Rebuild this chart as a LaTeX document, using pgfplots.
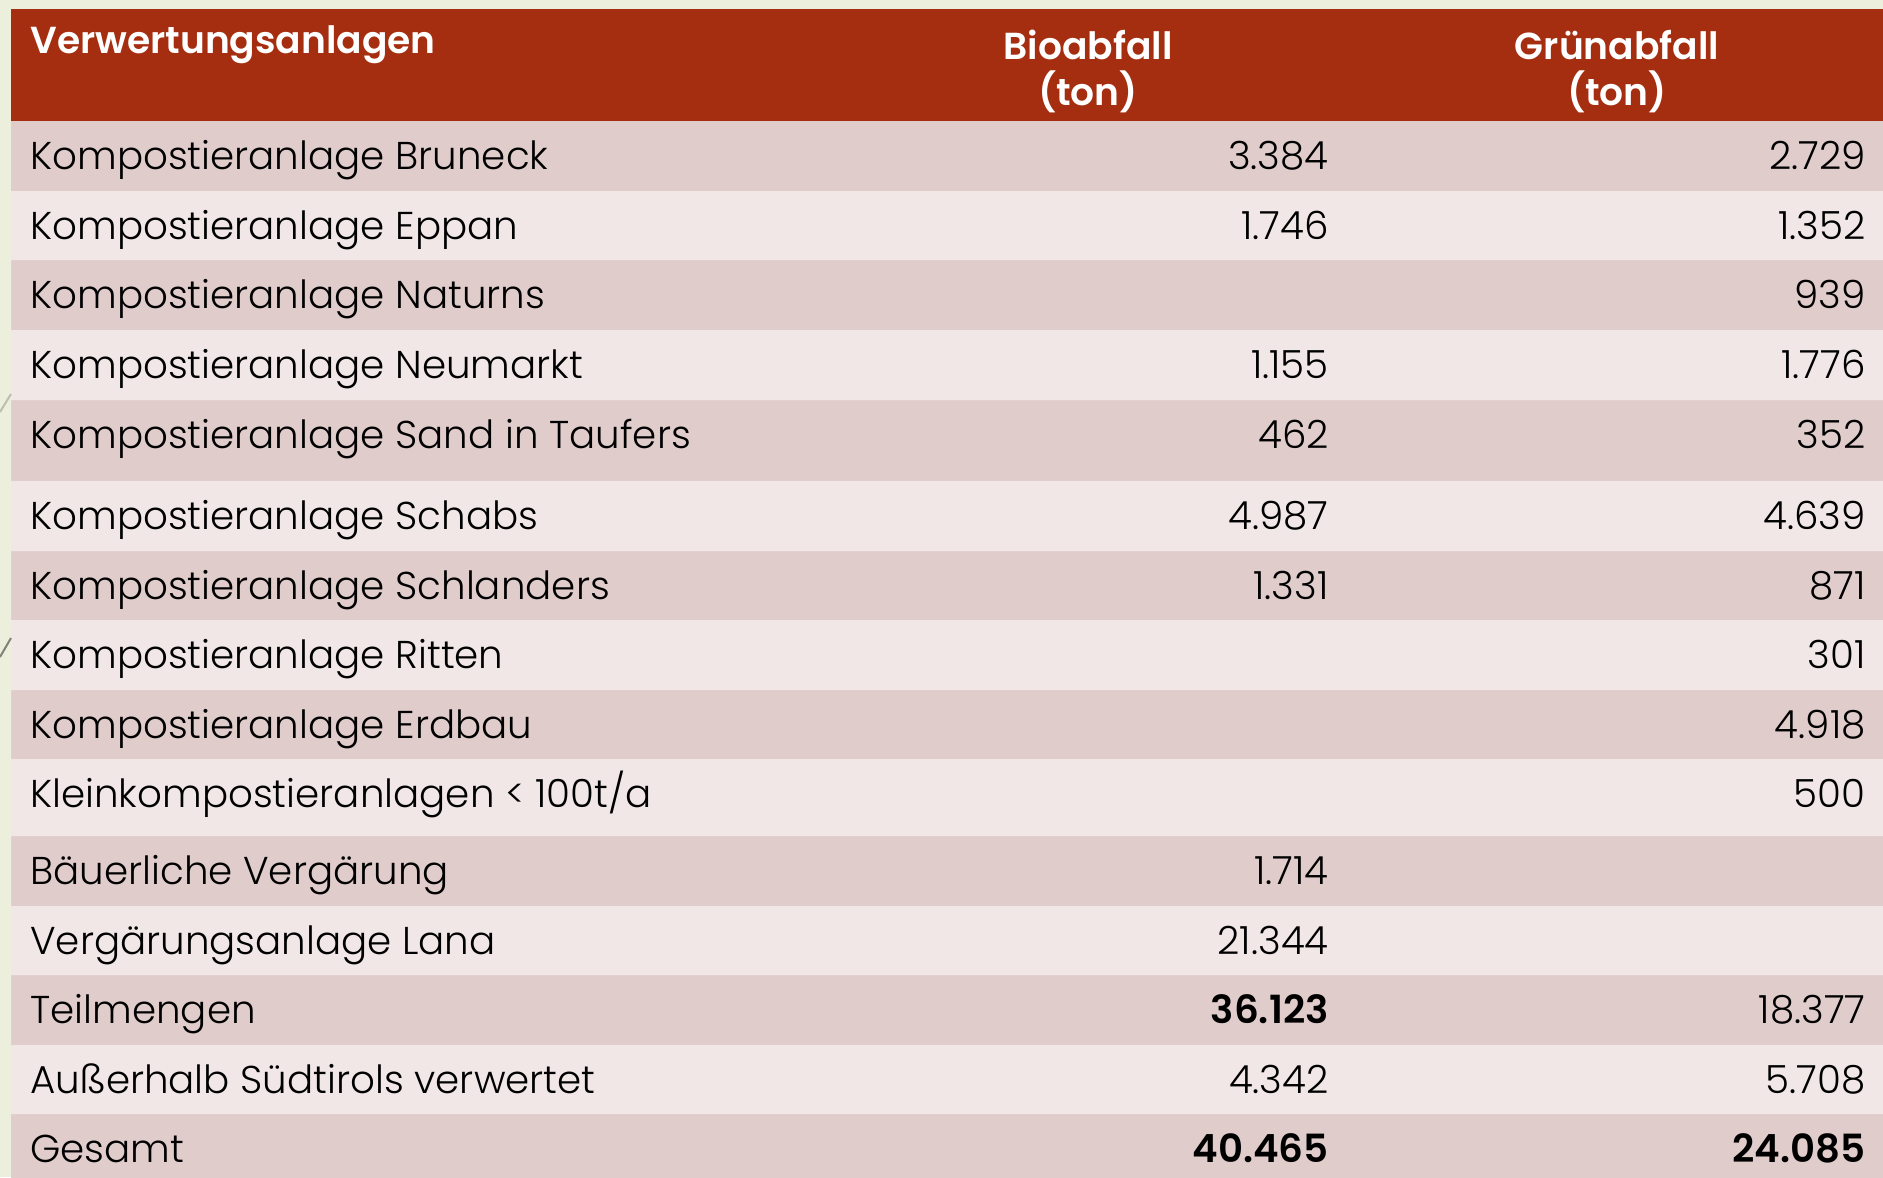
\documentclass[border=0pt]{standalone}
\usepackage{pgfplots}
\pgfplotsset{compat=1.18}
\usepackage{pgfplotstable}
\usepackage{fontspec}
\setmainfont{Poppins}[UprightFont=* Light, BoldFont=* SemiBold]

\definecolor{bgc}{RGB}{235,239,219}
\definecolor{kopf}{RGB}{165,46,16}
\definecolor{dunkel}{RGB}{224,204,203}
\definecolor{hell}{RGB}{240,231,230}
\newcommand\zeile{\fontsize{19.4}{23}\selectfont}
\newcommand\kopfschrift{\fontsize{18.8}{22}\selectfont\bfseries}

% top = y of the upper edge of the row (px from top)
\pgfplotstableread[col sep=semicolon]{
top;label;bio;gruen
121;Kompostieranlage Bruneck;3.384;2.729
191;Kompostieranlage Eppan;1.746;1.352
260;Kompostieranlage Naturns;{};939
330;Kompostieranlage Neumarkt;1.155;1.776
400;Kompostieranlage Sand in Taufers;462;352
481;Kompostieranlage Schabs;4.987;4.639
551;Kompostieranlage Schlanders;1.331;871
620;Kompostieranlage Ritten;{};301
690;Kompostieranlage Erdbau;{};4.918
759;Kleinkompostieranlagen < 100t/a;{};500
836;Bäuerliche Vergärung;1.714;{}
906;Vergärungsanlage Lana;21.344;{}
975;Teilmengen;\textbf{36.123};18.377
1045;Außerhalb Südtirols verwertet;4.342;5.708
1114;Gesamt;\textbf{40.465};\textbf{24.085}
}\anlagen

\begin{document}
\begin{tikzpicture}
\begin{axis}[
    width=941.5pt, height=588.5pt, scale only axis,
    xmin=-11, xmax=1872, ymin=0, ymax=1177, y dir=reverse,
    enlargelimits=false,
    axis line style={draw=none}, xtick=\empty, ytick=\empty,
    axis background/.style={fill=bgc},
    nodes near coords={\pgfplotspointmeta},
    point meta=explicit symbolic,
]
% row backgrounds
\addplot[xbar interval, fill=kopf, draw=none] coordinates {(1900,9) (1900,121)};
\addplot[xbar interval, fill=dunkel, draw=none] coordinates {
    (1900,121) (0,191) (1900,260) (0,330) (1900,400) (0,481) (1900,551) (0,620)
    (1900,690) (0,759) (1900,836) (0,906) (1900,975) (0,1045) (1900,1114) (0,1180)};
\addplot[xbar interval, fill=hell, draw=none] coordinates {
    (1900,191) (0,260) (1900,330) (0,400) (1900,481) (0,551) (1900,620) (0,690)
    (1900,759) (0,836) (1900,906) (0,975) (1900,1045) (0,1114)};

% faint slide decoration at the left edge
\draw[color=black!20!bgc, line width=1pt] (axis cs:-11,412) -- (axis cs:0,394);
\draw[color=black!45!bgc, line width=1pt] (axis cs:-11,657) -- (axis cs:0,638);

% cell texts
\addplot[draw=none, mark=none, every node near coord/.style={anchor=base west, inner sep=0pt, font=\zeile}]
    table[x expr=19, y expr=\thisrow{top}+48, meta=label]{\anlagen};
\addplot[draw=none, mark=none, every node near coord/.style={anchor=base east, inner sep=0pt, font=\zeile}]
    table[x expr=1318, y expr=\thisrow{top}+48, meta=bio]{\anlagen};
\addplot[draw=none, mark=none, every node near coord/.style={anchor=base east, inner sep=0pt, font=\zeile}]
    table[x expr=1855, y expr=\thisrow{top}+48, meta=gruen]{\anlagen};

% header
\node[anchor=base west, inner sep=0pt, font=\kopfschrift, text=white] at (axis cs:19,54) {Verwertungsanlagen};
\node[anchor=base, inner sep=0pt, font=\kopfschrift, text=white] at (axis cs:1077,59) {Bioabfall};
\node[anchor=base, inner sep=0pt, font=\kopfschrift, text=white] at (axis cs:1077,105) {(ton)};
\node[anchor=base, inner sep=0pt, font=\kopfschrift, text=white] at (axis cs:1606,59) {Grünabfall};
\node[anchor=base, inner sep=0pt, font=\kopfschrift, text=white] at (axis cs:1606,105) {(ton)};
\end{axis}
\end{tikzpicture}
\end{document}
